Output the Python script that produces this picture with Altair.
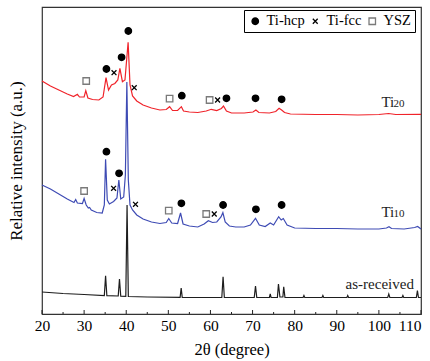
import altair as alt
import pandas as pd

# ---------------- data ----------------
# as-received (black)
asr_2theta = [20, 25, 30, 34.8, 35.1, 35.4, 38.1, 38.4, 38.7, 39.9, 40.2, 40.5, 45, 52.8, 53.05, 53.3,
              62.7, 63.0, 63.3, 70.4, 70.7, 71.0, 74.0, 74.2, 74.4, 75.9, 76.15, 76.5, 77.2, 77.4, 77.7,
              82.0, 82.2, 82.4, 86.5, 86.7, 86.9, 92.4, 92.6, 92.8, 102.1, 102.35, 102.6, 105.5, 105.7,
              105.9, 108.9, 109.15, 109.4, 110]
asr_int = [22, 20.5, 19.5, 18.5, 38.3, 18.3, 18, 35, 17.8, 17.7, 109, 17.5, 17, 16.7, 26, 16.7,
           16.5, 37.3, 16.5, 16.5, 28, 16.5, 16.5, 20, 16.5, 16.5, 30, 17, 17, 27.3, 16.5,
           16.5, 18.5, 16.5, 16.5, 18.5, 16.5, 16.5, 18.5, 16.5, 16.5, 20, 16.5, 16.5, 18.5,
           16.5, 16.5, 23.3, 16.5, 16.5]

# Ti10 (blue)
ti10_2theta = [20, 22, 24, 26, 27.6, 28.0, 28.4, 29.6, 30.0, 30.5, 31.0, 31.3, 31.7, 33, 34.3, 34.8, 35.1,
               35.5, 36.0, 37.0, 37.8, 38.25, 38.7, 39.4, 39.8, 40.15, 40.5, 40.9, 41.5, 42.5, 44, 46, 48,
               49.5, 50.1, 50.8, 52.2, 52.9, 53.5, 55, 57, 58.5, 59.5, 60.5, 61.5, 62.5, 62.95, 63.5, 64.5,
               66, 68, 69.5, 70.7, 71.6, 73, 74.2, 75, 76.2, 76.8, 77.3, 78.2, 80, 85, 90, 95, 100, 101.8,
               102.4, 103, 106, 108.5, 109.2, 110]
ti10_int = [129, 125, 120, 115, 111.5, 114.5, 111, 110.5, 115.5, 109, 106, 106.5, 104, 101.5, 101, 109, 154.7,
            114, 110, 112.5, 116, 134, 115, 117, 139, 232, 134, 109, 104, 99, 95, 92, 90.5,
            91.5, 95.5, 91, 90.5, 101, 90, 88, 87, 90, 93.3, 91.5, 92, 97, 101.3, 92, 88,
            87, 87, 89, 95.7, 89, 87.5, 91, 89, 97.3, 94, 95.5, 89, 86, 85.5, 85.5, 85, 85, 86,
            87.3, 85.5, 85, 86.5, 87.5, 85]

# Ti20 (red)
ti20_2theta = [20, 22, 24, 26, 27.5, 28.4, 28.9, 30.0, 30.4, 30.9, 32, 33.5, 34.5, 35.2, 35.8, 36.5, 37.3,
               38.0, 38.5, 39.1, 39.7, 40.45, 40.9, 41.5, 42.5, 44, 46, 48, 49.5, 50.3, 51, 52.2, 53.1,
               53.6, 55, 57, 59, 60.2, 61.5, 62.6, 63.1, 63.8, 65, 68, 70.1, 70.8, 71.5, 74, 75.5, 76.3,
               76.9, 77.6, 79, 85, 90, 95, 100, 102.3, 104, 110]
ti20_int = [233, 228, 224, 220, 217.5, 219.7, 217, 217, 223.3, 216, 214.5, 214, 217, 236.3, 224, 229, 230.5,
            234, 245.7, 232.3, 234, 271.7, 229, 218, 213, 209, 206, 204, 204.5, 207.3, 203.5, 203.5, 207.3,
            203, 202, 201.5, 203, 204.7, 203.5, 205.5, 208, 203, 201, 201, 202, 204, 201.5, 201, 202.5, 205.7,
            204, 201.5, 200, 199.5, 199.5, 199, 199.5, 200.5, 199.5, 199.7]

# phase markers
phases = ["Ti-hcp", "Ti-fcc", "YSZ"]
mark_2theta = [30.5, 35.3, 37.1, 38.9, 40.5, 41.9, 50.3, 53.2, 59.8, 61.7, 63.8, 70.7, 76.9,
               30.0, 35.3, 37.0, 38.3, 42.2, 50.1, 53.1, 59.0, 60.9, 63.0, 70.8, 76.9]
mark_int = [233, 245, 241.3, 256.7, 283, 226.3, 215.3, 218.3, 214, 214, 215.7, 215.7, 214.7,
            123, 162.3, 125.7, 140.7, 109.7, 103.3, 110.7, 100, 100, 109, 104.7, 109]
mark_phase = ["YSZ", "Ti-hcp", "Ti-fcc", "Ti-hcp", "Ti-hcp", "Ti-fcc", "YSZ", "Ti-hcp", "YSZ", "Ti-fcc",
              "Ti-hcp", "Ti-hcp", "Ti-hcp",
              "YSZ", "Ti-hcp", "Ti-fcc", "Ti-hcp", "Ti-fcc", "YSZ", "Ti-hcp", "YSZ", "Ti-fcc",
              "Ti-hcp", "Ti-hcp", "Ti-hcp"]

# curve labels
label_main = ["Ti", "Ti", "as-received"]
label_sub = ["20", "10", ""]
label_2theta = [100.6, 100.6, 92.1]
label_int = [206.7, 96.7, 24.7]

major_ticks = list(range(20, 111, 10))
minor_ticks = list(range(25, 110, 10))

# ---------------- chart ----------------
W, H = 379, 307
FONT = "Liberation Serif"

xscale = alt.Scale(domain=[20, 110], nice=False, zero=False)
yscale = alt.Scale(domain=[0, 307], nice=False, zero=False)

xaxis = alt.Axis(values=major_ticks, ticks=False, domain=False, grid=False, labelFont=FONT,
                 labelFontSize=15.5, labelColor="black", labelPadding=4, title="2θ (degree)",
                 titleFont=FONT, titleFontSize=16.5, titleFontWeight="normal", titleColor="black",
                 titlePadding=8, labelFlush=False,
                 labelAlign={"condition": {"test": "datum.value == 110", "value": "right"}, "value": "center"},
                 labelOverlap=False)
yaxis = alt.Axis(labels=False, ticks=False, domain=False, grid=False, title="Relative intensity (a.u.)",
                 titleFont=FONT, titleFontSize=17, titleFontWeight="normal", titleColor="black",
                 titlePadding=17)


def line_layer(xs, ys, color, with_axes=False):
    df = pd.DataFrame({"two_theta": xs, "intensity": ys})
    if with_axes:
        enc_x = alt.X("two_theta:Q", scale=xscale, axis=xaxis)
        enc_y = alt.Y("intensity:Q", scale=yscale, axis=yaxis)
    else:
        enc_x = alt.X("two_theta:Q", scale=xscale)
        enc_y = alt.Y("intensity:Q", scale=yscale)
    return alt.Chart(df).mark_line(color=color, strokeWidth=1.2, interpolate="linear").encode(x=enc_x, y=enc_y)


black = line_layer(asr_2theta, asr_int, "#1e1e1e", with_axes=True)
red = line_layer(ti20_2theta, ti20_int, "#f0232a")
blue = line_layer(ti10_2theta, ti10_int, "#3e4bb4")

mk_df = pd.DataFrame({"two_theta": mark_2theta, "intensity": mark_int, "phase": mark_phase})
cross_path = "M-0.75,-0.75L0.75,0.75M-0.75,0.75L0.75,-0.75"
leg = alt.Legend(title=None, orient="none", legendX=202, legendY=3, direction="horizontal",
                 labelFont=FONT, labelFontSize=14.5, labelColor="black", strokeColor="black",
                 fillColor="white", padding=4, columnPadding=3, labelOffset=4, symbolSize=42,
                 symbolStrokeWidth=1.3, gridAlign="none")
markers = alt.Chart(mk_df).mark_point(size=42, strokeWidth=1.3, opacity=1).encode(
    x=alt.X("two_theta:Q", scale=xscale),
    y=alt.Y("intensity:Q", scale=yscale),
    shape=alt.Shape("phase:N", scale=alt.Scale(domain=phases, range=["circle", cross_path, "square"]),
                    legend=leg, sort=phases),
    stroke=alt.Stroke("phase:N", scale=alt.Scale(domain=phases, range=["black", "black", "#7a7a7a"]),
                      legend=leg, sort=phases),
    fill=alt.Fill("phase:N", scale=alt.Scale(domain=phases, range=["black", "transparent", "transparent"]),
                  legend=leg, sort=phases),
)

lab_df = pd.DataFrame({"two_theta": label_2theta, "intensity": label_int, "main": label_main, "sub": label_sub})
lab_main = alt.Chart(lab_df).mark_text(font=FONT, fontSize=15, align="left", baseline="alphabetic",
                                       color="#222").encode(
    x=alt.X("two_theta:Q", scale=xscale), y=alt.Y("intensity:Q", scale=yscale), text="main:N")
lab_sub = alt.Chart(lab_df).mark_text(font=FONT, fontSize=11, align="left", baseline="alphabetic",
                                      color="#222", dx=12).encode(
    x=alt.X("two_theta:Q", scale=xscale), y=alt.Y("intensity:Q", scale=yscale), text="sub:N")

maj_df = pd.DataFrame({"t": major_ticks})
min_df = pd.DataFrame({"t": minor_ticks})
maj = alt.Chart(maj_df).mark_rule(color="#222", strokeWidth=1).encode(
    x=alt.X("t:Q", scale=xscale), y=alt.value(H), y2=alt.value(H - 4))
mnr = alt.Chart(min_df).mark_rule(color="#222", strokeWidth=1).encode(
    x=alt.X("t:Q", scale=xscale), y=alt.value(H), y2=alt.value(H - 2))

chart = alt.layer(black, red, blue, markers, lab_main, lab_sub, maj, mnr).properties(
    width=W, height=H,
    autosize=alt.AutoSizeParams(type="none"),
    padding={"left": 42, "top": 7, "right": 9, "bottom": 47},
    background="white",
).configure(font=FONT).configure_legend(labelFont=FONT).configure_view(stroke="#333", strokeWidth=1.2)

chart.save("out.html", embed_options={"renderer": "svg", "actions": False})
